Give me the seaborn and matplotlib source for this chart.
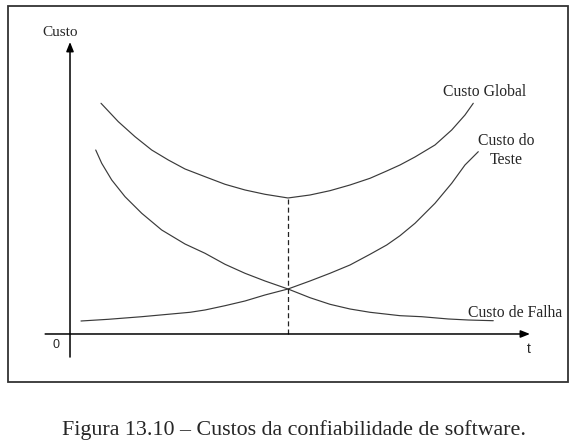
import matplotlib
matplotlib.use("Agg")
import matplotlib.pyplot as plt
import matplotlib.patches as mpatches
import seaborn as sns
import pandas as pd

# ---- data (t, cost in arbitrary units 0..10) ----
global_t = [0.674, 1.050, 1.413, 1.776, 2.137, 2.500, 2.935, 3.370, 3.804, 4.239, 4.739,
            5.217, 5.652, 6.087, 6.522, 6.885, 7.174, 7.500, 7.935, 8.298, 8.587, 8.767]
global_c = [7.901, 7.271, 6.757, 6.301, 5.959, 5.651, 5.387, 5.127, 4.932, 4.784, 4.658,
            4.760, 4.908, 5.103, 5.332, 5.582, 5.788, 6.062, 6.473, 6.986, 7.500, 7.901]

teste_t = [0.239, 0.833, 1.559, 2.609, 2.935, 3.370, 3.804, 4.239, 4.739, 5.217,
           5.652, 6.087, 6.522, 6.885, 7.174, 7.500, 7.935, 8.298, 8.587, 8.876]
teste_c = [0.445, 0.503, 0.592, 0.743, 0.822, 0.969, 1.130, 1.336, 1.541, 1.815,
           2.079, 2.363, 2.729, 3.048, 3.366, 3.791, 4.476, 5.161, 5.788, 6.243]

falha_t = [0.559, 0.689, 0.907, 1.196, 1.559, 1.993, 2.500, 2.935, 3.370, 3.804, 4.239,
           4.739, 5.217, 5.652, 6.087, 6.522, 7.174, 7.646, 8.224, 8.659, 9.202]
falha_c = [6.301, 5.846, 5.274, 4.702, 4.134, 3.562, 3.082, 2.764, 2.387, 2.079, 1.815,
           1.541, 1.243, 1.017, 0.856, 0.743, 0.627, 0.592, 0.514, 0.479, 0.455]

optimum_t = 4.739
optimum_c = 4.658

series_names = ["Custo Global", "Custo do Teste", "Custo de Falha"]
y_label = "Custo"
x_label = "t"
origin_label = "0"
caption = "Figura 13.10 – Custos da confiabilidade de software."

# ---- plotting ----
sns.set_style("white")
plt.rcParams["font.family"] = ["Liberation Serif", "DejaVu Serif"]

fig = plt.figure(figsize=(5.74, 4.42), dpi=100)
ax = fig.add_axes([0, 0, 1, 1])
ax.set_xlim(-1.522, 10.957)
ax.set_ylim(-3.699, 11.438)
ax.axis("off")

line_col = "#3a3a3a"
for tt, cc in [(global_t, global_c), (teste_t, teste_c), (falha_t, falha_c)]:
    df = pd.DataFrame({"t": tt, "c": cc})
    sns.lineplot(data=df, x="t", y="c", ax=ax, color=line_col, lw=0.85,
                 sort=False, estimator=None)

# dashed optimum marker
ax.plot([optimum_t, optimum_t], [0, optimum_c], color="#222222", lw=0.9,
        ls=(0, (4, 2.5)))

# axes arrows
arrow_kw = dict(arrowstyle="-|>,head_length=0.55,head_width=0.22",
                color="black", lw=1.1, shrinkA=0, shrinkB=0)
ax.annotate("", xy=(0, 10.0), xytext=(0, -0.79), arrowprops=arrow_kw)
ax.annotate("", xy=(10.0, 0), xytext=(-0.54, 0), arrowprops=arrow_kw)

# labels
ax.text(-0.217, 10.31, y_label, fontsize=11, ha="center", va="center")
ax.text(9.02, 8.29, series_names[0], fontsize=11.3, ha="center", va="center")
ax.text(9.48, 6.61, "Custo do", fontsize=11.3, ha="center", va="center")
ax.text(9.48, 5.96, "Teste", fontsize=11.3, ha="center", va="center")
ax.text(9.685, 0.73, series_names[2], fontsize=11.3, ha="center", va="center")
ax.text(9.98, -0.51, x_label, fontsize=10, ha="center", va="center",
        family=["Liberation Sans"])
ax.text(-0.304, -0.38, origin_label, fontsize=9, ha="center", va="center",
        family=["Liberation Sans"])

# frame around the drawing
rect = mpatches.Rectangle((8 / 574, 1 - 382 / 442), (568 - 8) / 574, (382 - 6) / 442,
                          transform=fig.transFigure, fill=False,
                          edgecolor="#333333", lw=1.3)
fig.patches.append(rect)

fig.text(294 / 574, 1 - 430 / 442, caption, fontsize=15.8, ha="center", va="center")

fig.savefig("out.png", dpi=100)
